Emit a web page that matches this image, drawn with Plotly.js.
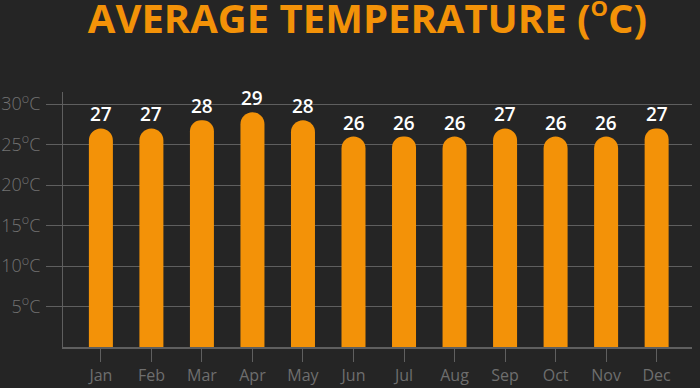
<!DOCTYPE html>
<html>
<head>
<meta charset="utf-8">
<script src="https://cdn.plot.ly/plotly-3.0.1.min.js"></script>
<style>html,body{margin:0;padding:0;background:#252525;}</style>
</head>
<body>
<div id="chart" style="width:700px;height:388px;"></div>
<script>
const months = ["Jan","Feb","Mar","Apr","May","Jun","Jul","Aug","Sep","Oct","Nov","Dec"];
const avgTemp = [27,27,28,29,28,26,26,26,27,26,26,27];
const yTickVals = [5,10,15,20,25,30];
const yTickText = ["5<sup>o</sup>C","10<sup>o</sup>C","15<sup>o</sup>C","20<sup>o</sup>C","25<sup>o</sup>C","30<sup>o</sup>C"];
const titleText = "AVERAGE TEMPERATURE (<sup><span style='font-size:22px'>O</span></sup>C)";

const orange = "#F39208";
const grid = "#5f5f5f";

const trace = {
  type: "bar",
  x: months,
  y: avgTemp,
  width: 0.475,
  marker: {color: orange, cornerradius: 12, line: {width: 0}},
  hoverinfo: "none"
};

const valueLabels = months.map((m, i) => ({
  x: m, y: avgTemp[i], xref: "x", yref: "y",
  text: String(avgTemp[i]),
  showarrow: false, yanchor: "bottom", yshift: -1,
  font: {family: "Open Sans", size: 19, color: "#ffffff", weight: 600}
}));

const layout = {
  width: 700, height: 388,
  paper_bgcolor: "#252525",
  plot_bgcolor: "#252525",
  margin: {l: 63, r: 8, t: 92, b: 41},
  showlegend: false,
  title: {
    text: titleText,
    font: {family: "Open Sans", size: 40, color: orange, weight: 700},
    x: 0.525, xanchor: "center",
    y: 0.951, yanchor: "middle"
  },
  annotations: valueLabels,
  xaxis: {
    type: "category",
    range: [-0.75, 11.7],
    showline: true, linecolor: grid, linewidth: 1.5,
    ticks: "outside", ticklen: 13, tickcolor: grid, tickwidth: 1,
    tickfont: {family: "Open Sans", size: 16, color: "#6e6e6e"},
    showgrid: false, zeroline: false
  },
  yaxis: {
    range: [0, 31.5],
    tickvals: yTickVals, ticktext: yTickText,
    showline: true, linecolor: grid, linewidth: 1,
    ticks: "outside", ticklen: 16, tickcolor: grid, tickwidth: 1,
    ticklabelstandoff: 2,
    tickfont: {family: "Open Sans", size: 18, color: "#727272", weight: 300},
    showgrid: true, gridcolor: grid, gridwidth: 1,
    zeroline: false
  },
  bargap: 0.5
};

Plotly.newPlot("chart", [trace], layout, {displayModeBar: false, staticPlot: true});
</script>
</body>
</html>
